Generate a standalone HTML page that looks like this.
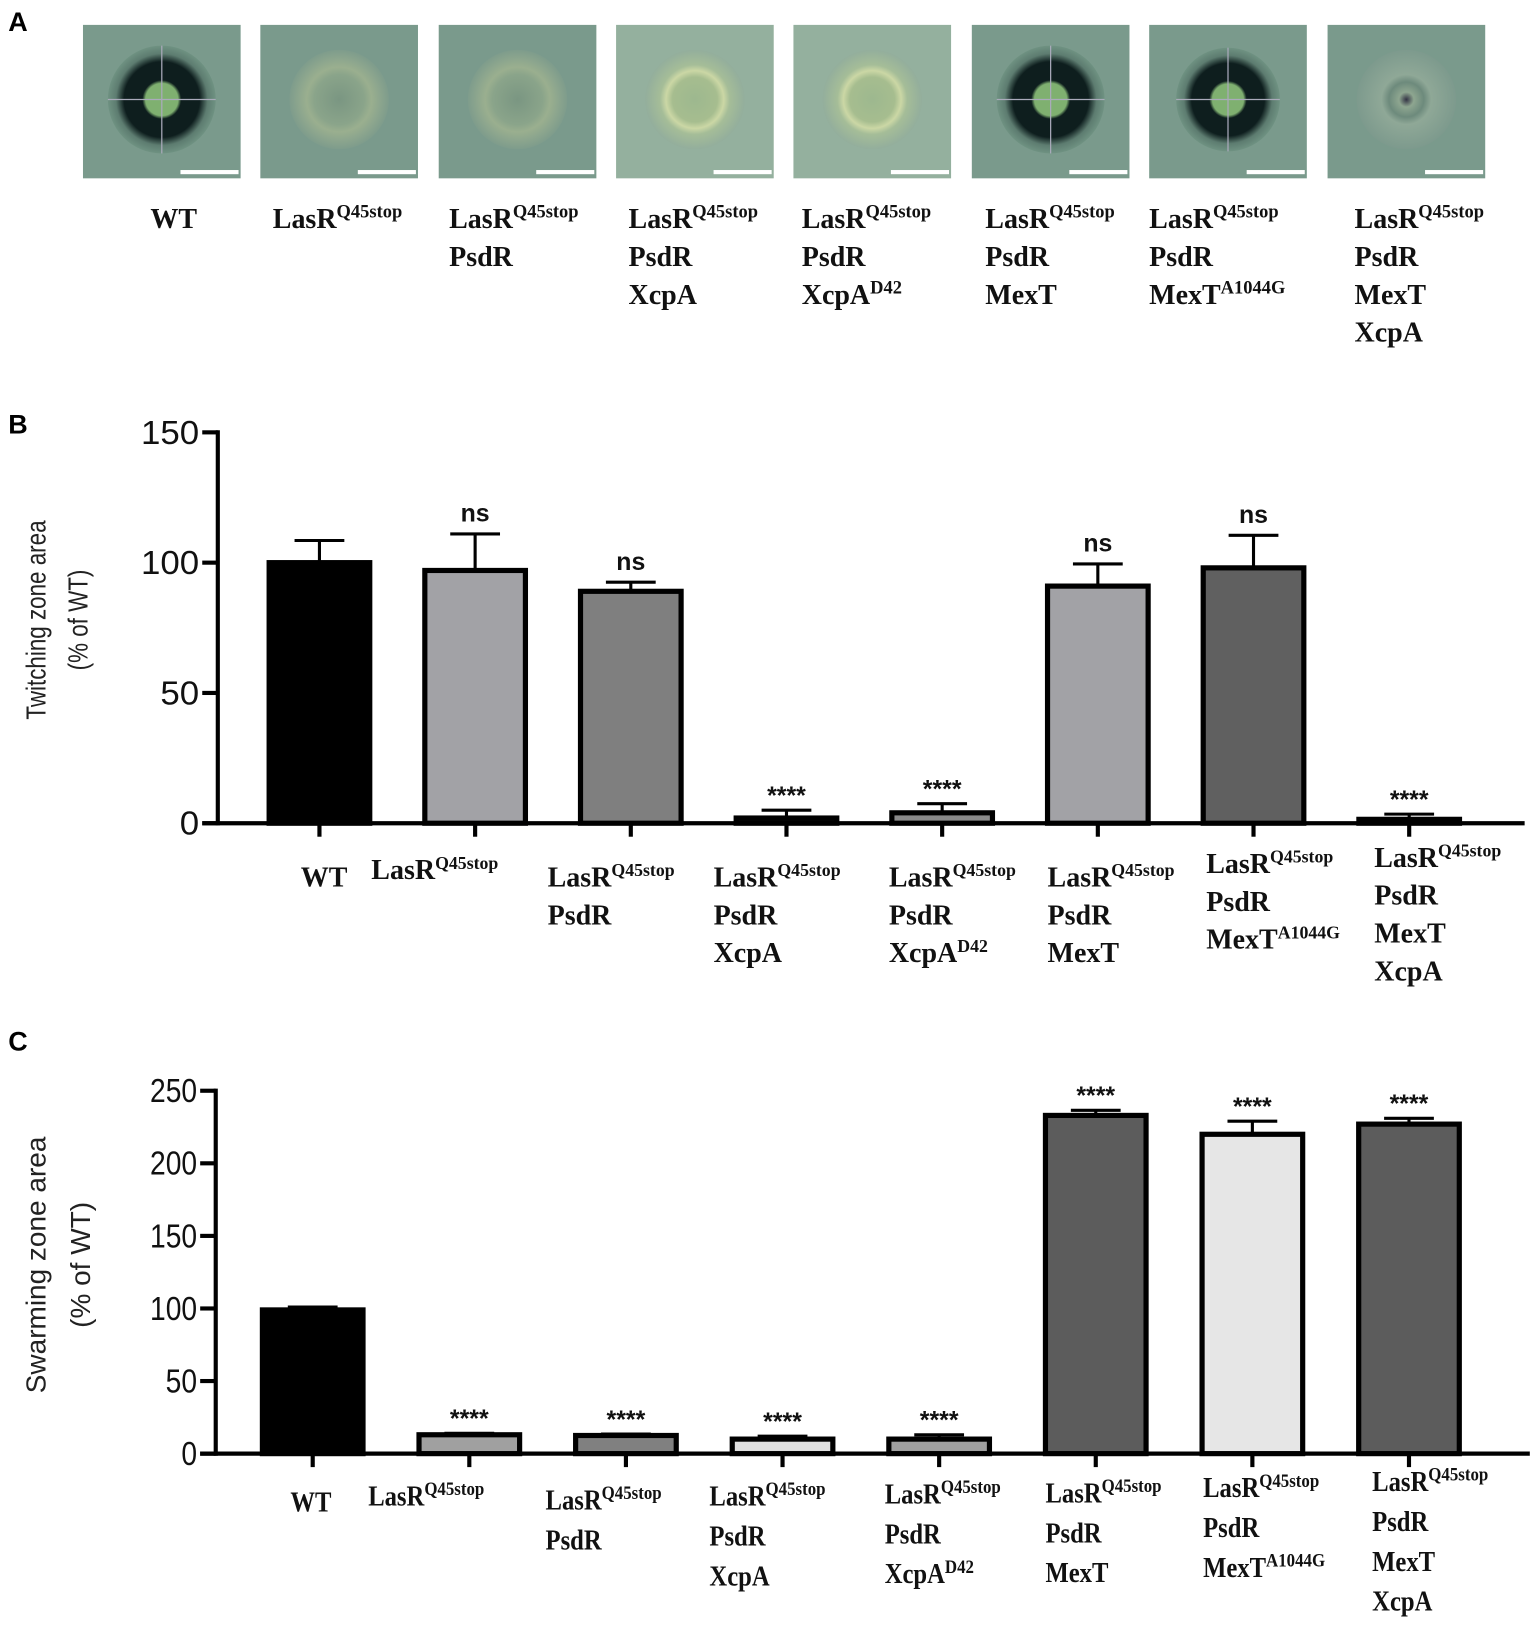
<!DOCTYPE html>
<html><head><meta charset="utf-8">
<style>
html,body{margin:0;padding:0;background:#fff;}
svg{display:block;}
.lab{font-family:"Liberation Serif",serif;font-weight:bold;font-size:27px;fill:#111;}
.tick{font-family:"Liberation Sans",sans-serif;font-size:32px;fill:#111;}
.ytitle{font-family:"Liberation Sans",sans-serif;font-size:27px;fill:#222;}
.sig{font-family:"Liberation Sans",sans-serif;font-weight:bold;font-size:24px;fill:#111;}
.panel{font-family:"Liberation Sans",sans-serif;font-weight:bold;font-size:26px;fill:#000;}
</style></head>
<body>
<svg id="fig" width="1535" height="1633" viewBox="0 0 1480 1575" preserveAspectRatio="none" xmlns="http://www.w3.org/2000/svg">
<defs>
<radialGradient id="dark" cx="50%" cy="50%" r="50%"><stop offset="0" stop-color="#7fb070"/><stop offset="0.3" stop-color="#7fb070"/><stop offset="0.36" stop-color="#0e1e1e"/><stop offset="0.7" stop-color="#0e1e1e"/><stop offset="0.85" stop-color="#5d7c70"/><stop offset="1" stop-color="#6f9282"/></radialGradient>
<radialGradient id="faint" cx="50%" cy="50%" r="50%"><stop offset="0" stop-color="#7a9682"/><stop offset="0.5" stop-color="#8aa48a"/><stop offset="0.65" stop-color="#9aaf8f"/><stop offset="1" stop-color="#7e9c8c"/></radialGradient>
<radialGradient id="yellow" cx="50%" cy="50%" r="50%"><stop offset="0" stop-color="#9db88f"/><stop offset="0.45" stop-color="#a6bd8f"/><stop offset="0.58" stop-color="#cbd7a5"/><stop offset="0.7" stop-color="#a5bd98"/><stop offset="1" stop-color="#93ae9c"/></radialGradient>
<radialGradient id="ring" cx="50%" cy="50%" r="50%"><stop offset="0" stop-color="#334"/><stop offset="0.15" stop-color="#8ea690"/><stop offset="0.35" stop-color="#6d8a7c"/><stop offset="0.5" stop-color="#8fa897"/><stop offset="1" stop-color="#7d9a8d"/></radialGradient>
</defs>
<text class="panel" x="8" y="30">A</text>
<text class="panel" x="8" y="418">B</text>
<text class="panel" x="8" y="1013">C</text>
<g id="photos"></g>
<g id="labelsA"></g>
<g id="chartB"></g>
<g id="chartC"></g>
</svg>
<script>
const NS="http://www.w3.org/2000/svg";
// ---- Data ----
const strains=[["WT"],["LasR|Q45stop"],["LasR|Q45stop","PsdR"],["LasR|Q45stop","PsdR","XcpA"],["LasR|Q45stop","PsdR","XcpA|D42"],["LasR|Q45stop","PsdR","MexT"],["LasR|Q45stop","PsdR","MexT|A1044G"],["LasR|Q45stop","PsdR","MexT","XcpA"]];
const photoStyles=["dark","faint","faint","yellow","yellow","dark","dark","ring"];
const twitchValues=[100,97,89,2,4,91,98,1.5];
const twitchErrors=[8.5,14,3.5,3,3.5,8.5,12.5,2];
const twitchSig=["","ns","ns","****","****","ns","ns","****"];
const twitchColors=["#000000","#a2a2a6","#7f7f7f","#8a8a8a","#8a8a8a","#a2a2a6","#606060","#8a8a8a"];
const twitchTicks=[0,50,100,150];
const swarmValues=[99,13,12.5,10,10,233,220,227];
const swarmErrors=[2,1,1,2,3,3.5,9,4];
const swarmSig=["","****","****","****","****","****","****","****"];
const swarmColors=["#000000","#a0a0a0","#808080","#e0e0e0","#a0a0a0","#5c5c5c","#e6e6e6","#5c5c5c"];
const swarmTicks=[0,50,100,150,200,250];

function el(tag,attrs,parent){const e=document.createElementNS(NS,tag);for(const k in attrs)e.setAttribute(k,attrs[k]);parent.appendChild(e);return e;}
function addLabel(parent,x,y0,lh,lines,sx,fs){
  const g=el("g",{transform:`translate(${x},0) scale(${sx},1)`},parent);
  
  
  lines.forEach((ln,i)=>{
    const parts=ln.split("|");
    const t=el("text",{class:"lab",x:0,y:y0+i*lh,"font-size":fs},g);
    t.appendChild(document.createTextNode(parts[0]));
    if(parts[1]){const s=el("tspan",{dy:-10,"font-size":fs*0.66},t);s.textContent=parts[1];}
  });
}
// ---- Panel A photos ----
const ph=document.getElementById("photos");
const photoX=[80,251,423,594,765,937,1108,1280];
photoX.forEach((x,i)=>{
  const g=el("g",{},ph);
  
  
  const base=photoStyles[i]==="yellow"?"#94b09e":"#7a9a8c";
  el("rect",{x:x,y:24,width:152,height:148,fill:base},g);
  const r=photoStyles[i]==="dark"?(i===6?50:52):48;
  el("circle",{cx:x+76,cy:96,r:r,fill:`url(#${photoStyles[i]})`},g);
  if(photoStyles[i]==="dark"){el("line",{x1:x+76,y1:96-r,x2:x+76,y2:96+r,stroke:"#aab","stroke-width":1.2},g);el("line",{x1:x+76-r,y1:96,x2:x+76+r,y2:96,stroke:"#aab","stroke-width":1.2},g);}
  el("rect",{x:x+94,y:164,width:56,height:4,fill:"#fff"},g);
});
// ---- Panel A labels ----
const la=document.getElementById("labelsA");
const labAX=[145,263,433,606,773,950,1108,1306];
strains.forEach((s,i)=>addLabel(la,labAX[i],220,36.5,s,1,27));

// ---- Bar chart ----
function chart(gid,vals,errs,sig,cols,ticks,cfg){
  const g=document.getElementById(gid);
  const y=v=>cfg.y0-(v/cfg.vmax)*(cfg.y0-cfg.yTop);
  const x=i=>cfg.x0+i*cfg.step;
  const ax=el("g",{},g);
  
  
  el("line",{x1:cfg.axisX,y1:y(cfg.vmax)-2,x2:cfg.axisX,y2:cfg.y0+2,stroke:"#000","stroke-width":4},ax);
  el("line",{x1:cfg.axisX-15,y1:cfg.y0,x2:cfg.axisEnd,y2:cfg.y0,stroke:"#000","stroke-width":4},ax);
  ticks.forEach(t=>{
    el("line",{x1:cfg.axisX-15,y1:y(t),x2:cfg.axisX,y2:y(t),stroke:"#000","stroke-width":4},ax);
    const tx=el("text",{class:"tick",x:0,y:y(t)+11,"text-anchor":"end",transform:`translate(${cfg.axisX-18},0) scale(${cfg.tickSx},1)`},ax);
    
    
    tx.textContent=t;
  });
  const tt=el("text",{class:"ytitle","text-anchor":"middle",transform:`translate(${cfg.titleX},${cfg.titleY}) rotate(-90) scale(${cfg.titleSx},1)`,"font-size":cfg.titleFs},g);
  
  
  const t1=el("tspan",{x:0,dy:0},tt);t1.textContent=cfg.title;
  const t2=el("tspan",{x:0,dy:cfg.titleFs*1.3},tt);t2.textContent="(% of WT)";
  vals.forEach((v,i)=>{
    const cx=x(i);
    el("line",{x1:cx,y1:cfg.y0,x2:cx,y2:cfg.y0+13,stroke:"#000","stroke-width":4},ax);
    const bar=el("rect",{x:cx-cfg.bw/2,y:y(v),width:cfg.bw,height:cfg.y0-y(v),fill:cols[i],stroke:"#000","stroke-width":5},g);
    
    
    const eb=el("g",{},g);
    
    
    el("line",{x1:cx,y1:y(v),x2:cx,y2:y(v+errs[i]),stroke:"#000","stroke-width":3},eb);
    el("line",{x1:cx-24,y1:y(v+errs[i]),x2:cx+24,y2:y(v+errs[i]),stroke:"#000","stroke-width":3},eb);
    if(sig[i]){
      const s=el("text",{class:"sig",x:cx,y:y(v+errs[i])-(sig[i]==="ns"?12:6),"text-anchor":"middle","font-size":sig[i]==="ns"?27:24},g);
      
      
      s.textContent=sig[i];
    }
  });
  strains.forEach((s,i)=>addLabel(g,cfg.labX[i],cfg.labY[i],cfg.lh,s,cfg.labSx,cfg.labFs));
}
chart("chartB",twitchValues,twitchErrors,twitchSig,twitchColors,twitchTicks,{
  x0:308,step:150.1,bw:97,y0:794,yTop:417,vmax:150,axisX:210,axisEnd:1470,tickSx:1.05,
  title:"Twitching zone area",titleX:44,titleY:598,titleSx:0.8,titleFs:31,
  labX:[290,358,528,688,857,1010,1163,1325],labY:[855,848,855,855,855,855,842,836],lh:36.5,labSx:1,labFs:26});
chart("chartC",swarmValues,swarmErrors,swarmSig,swarmColors,swarmTicks,{
  x0:301.5,step:151,bw:97,y0:1402,yTop:1052,vmax:250,axisX:208,axisEnd:1475,tickSx:0.85,
  title:"Swarming zone area",titleX:44,titleY:1220,titleSx:1,titleFs:33,
  labX:[280,355,526,684,853,1008,1160,1323],labY:[1458,1452,1456,1452,1450,1449,1444,1438],lh:38.5,labSx:0.88,labFs:28});
</script>
</body></html>
